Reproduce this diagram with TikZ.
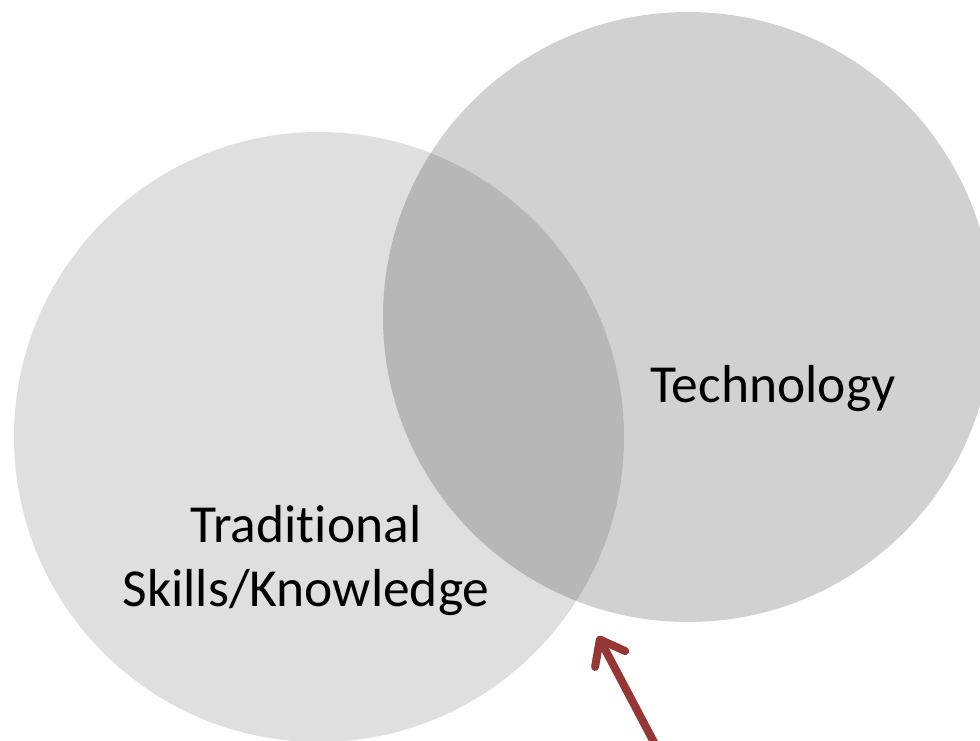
\documentclass[tikz,border=0pt]{standalone}
\usepackage{fontspec}
\setmainfont{Carlito}[Ligatures=NoCommon]
\usetikzlibrary{arrows.meta}
\definecolor{arrowred}{RGB}{149,55,53}
\tikzstyle{venn} = [circle, minimum size=610pt, inner sep=0pt, fill=black]
\tikzstyle{venntext} = [align=center, font=\fontsize{53.5}{64}\selectfont, text=black]

\begin{document}
\begin{tikzpicture}[x=1pt,y=-1pt]
        \tikzset{myptr/.style={draw=arrowred, line width=8pt, line cap=round,
    -{Straight Barb[round, length=22pt, width=34pt]}}}
        \clip (0,0) rectangle (980,740);
        \node (trad) [venn, fill opacity=0.125] at (319,437) {};
        \node (tech) [venn, fill opacity=0.18] at (688,317) {};

        \node (techText) [venntext] at (773,389) {Technology};
        \node (tradText) [venntext] at (306,561) {Traditional\\Skills/Knowledge};

        \coordinate (tail) at (657,748);
        \coordinate (tip) at (598,636);
        \draw [myptr] (tail) -- (tip);
    \end{tikzpicture}
\end{document}
